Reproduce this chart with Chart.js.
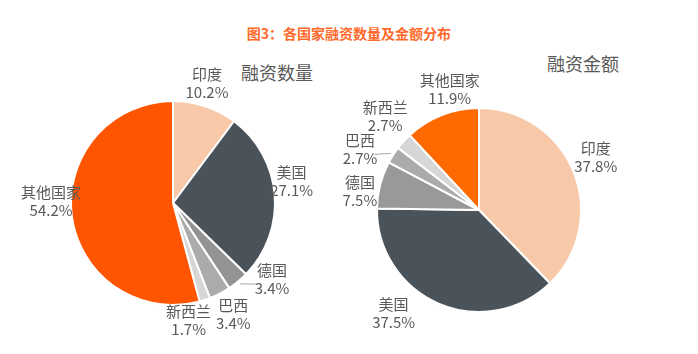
<!DOCTYPE html>
<html lang="zh">
  <head>
    <meta charset="UTF-8" />
    <title>各国家融资数量及金额分布</title>
    <script src="https://cdn.jsdelivr.net/npm/chart.js"></script>
    <style>
      body { margin: 0; background: #fff; }
      .wrap { position: relative; width: 698px; height: 354px; overflow: hidden;
        font-family: "Noto Sans CJK SC", "Noto Sans", sans-serif; }
      .main-title { position: absolute; top: 23px; left: 0; width: 698px; text-align: center;
        font-size: 14px; font-weight: bold; color: #FF6A2B; }
      .sub-title { position: absolute; font-size: 18px; color: #595959; }
      .box { position: absolute; top: 0; height: 354px; }
    </style>
  </head>
  <body>
    <div class="wrap">
      <div class="main-title">图3：各国家融资数量及金额分布</div>
      <div class="sub-title" style="left:241px; top:59px;">融资数量</div>
      <div class="sub-title" style="left:547px; top:50px;">融资金额</div>
      <div class="box" style="left:0; width:330px"><canvas id="pieCount"></canvas></div>
      <div class="box" style="left:330px; width:368px"><canvas id="pieAmount"></canvas></div>
    </div>
    <script>
      // data
      const countries = ["印度", "美国", "德国", "巴西", "新西兰", "其他国家"];
      const countShare = [10.2, 27.1, 3.4, 3.4, 1.7, 54.2];
      const amountShare = [37.8, 37.5, 7.5, 2.7, 2.7, 11.9];

      const colorsCount = ["#F8C9A8", "#4A535A", "#939393", "#ABABAB", "#D6D6D6", "#FF5500"];
      const colorsAmount = ["#F8C9A8", "#4A535A", "#999999", "#ABABAB", "#D6D6D6", "#FF6A00"];

      // label nudges (dx, dy) from the default spot outside each slice
      const nudgeCount = [[-6, 1], [-8, -12], [18, -22], [2, -1], [-24, -3], [4, -18]];
      const nudgeAmount = [[-1, -5], [-35, -13], [4, 13], [-12, 8], [0, -8], [17, -2]];
      // slices whose label gets a leader line
      const leaderCount = [2];
      const leaderAmount = [3];

      function labelPlugin(nudge, leaders) {
        return {
          id: "sliceLabels",
          afterDraw(chart) {
            const ctx = chart.ctx;
            const meta = chart.getDatasetMeta(0);
            const vals = chart.data.datasets[0].data;
            ctx.save();
            ctx.font = '15px "Noto Sans CJK SC", sans-serif';
            ctx.fillStyle = "#595959";
            ctx.textAlign = "center";
            ctx.textBaseline = "middle";
            meta.data.forEach((arc, i) => {
              const p = arc.getProps(["x", "y", "startAngle", "endAngle", "outerRadius"], true);
              const mid = (p.startAngle + p.endAngle) / 2;
              const r = p.outerRadius + 25;
              const x = p.x + Math.cos(mid) * r + nudge[i][0];
              const y = p.y + Math.sin(mid) * r + nudge[i][1];
              ctx.fillText(chart.data.labels[i], x, y - 9);
              ctx.fillText(vals[i].toFixed(1) + "%", x, y + 9);
              if (leaders.includes(i)) {
                const ex = p.x + Math.cos(mid) * (p.outerRadius + 3);
                const ey = p.y + Math.sin(mid) * (p.outerRadius + 3);
                const sx = x + (ex > x ? 7 : -7) + (ex - x) * 0.25;
                const sy = y + (ey - y) * 0.25 + 4;
                ctx.strokeStyle = "#A6A6A6";
                ctx.lineWidth = 1;
                ctx.beginPath();
                ctx.moveTo(sx, sy);
                ctx.lineTo(ex, ey);
                ctx.stroke();
              }
            });
            ctx.restore();
          }
        };
      }

      function makePie(id, values, colors, padding, nudge, leaders) {
        return new Chart(document.getElementById(id), {
          type: "pie",
          data: {
            labels: countries,
            datasets: [{
              data: values,
              backgroundColor: colors,
              borderColor: "#ffffff",
              borderWidth: 2
            }]
          },
          options: {
            responsive: true,
            maintainAspectRatio: false,
            animation: false,
            layout: { padding: padding },
            plugins: {
              legend: { display: false },
              tooltip: { enabled: false }
            }
          },
          plugins: [labelPlugin(nudge, leaders)]
        });
      }

      makePie("pieCount", countShare, colorsCount,
        { left: 70, top: 100, right: 54, bottom: 48 }, nudgeCount, leaderCount);
      makePie("pieAmount", amountShare, colorsAmount,
        { left: 46, top: 107, right: 116, bottom: 41 }, nudgeAmount, leaderAmount);
    </script>
  </body>
</html>
